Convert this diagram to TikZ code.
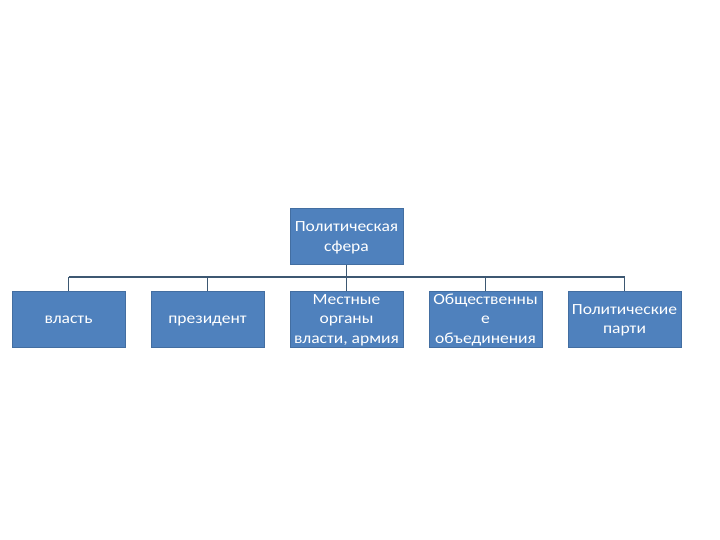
\documentclass[tikz,border=0pt]{standalone}
\usepackage{fontspec}
\setmainfont{Carlito}[FakeStretch=1.13]
\definecolor{boxfill}{HTML}{4F81BD}
\definecolor{linec}{HTML}{3D5872}
\newcommand{\firstln}{\rule[-5.85pt]{0pt}{21.65pt}}
\newcommand{\lastln}{\rule[-5.85pt]{0pt}{13.65pt}}
\tikzset{
  unitbox/.style={draw=boxfill!85!black, line width=0.6pt, fill=boxfill, text=white, minimum width=113pt, minimum height=56pt, inner xsep=1pt, inner ysep=-6pt, align=center, font=\fontsize{15.5}{19.5}\selectfont},
  conn/.style={draw=linec, line width=1.6pt}
}
\begin{document}
\begin{tikzpicture}[x=1pt,y=-1pt]
\useasboundingbox (0,0) rectangle (720,540);
\node[unitbox] (top) at (346.5,236.5) {\firstln Политическая\\сфера\lastln};
\node[unitbox] (b1) at (68.5,319) {\firstln власть\lastln};
\node[unitbox] (b2) at (207.5,319) {\firstln президент\lastln};
\node[unitbox] (b3) at (346.5,319) {\firstln Местные\\органы\\власти, армия\lastln};
\node[unitbox] (b4) at (485.5,319) {\firstln Общественны\\е\\объединения\lastln};
\node[unitbox] (b5) at (624.5,319) {\firstln Политические\\парти\lastln};
\coordinate (hub) at (346.5,277);
\draw[conn] (top.south) -- (hub);
\foreach \n in {b1,b2,b3,b4,b5} {
  \draw[conn] (\n.north) -- (\n.north |- hub);
}
\draw[conn] (b1.north |- hub) -- (b5.north |- hub);
\end{tikzpicture}
\end{document}
